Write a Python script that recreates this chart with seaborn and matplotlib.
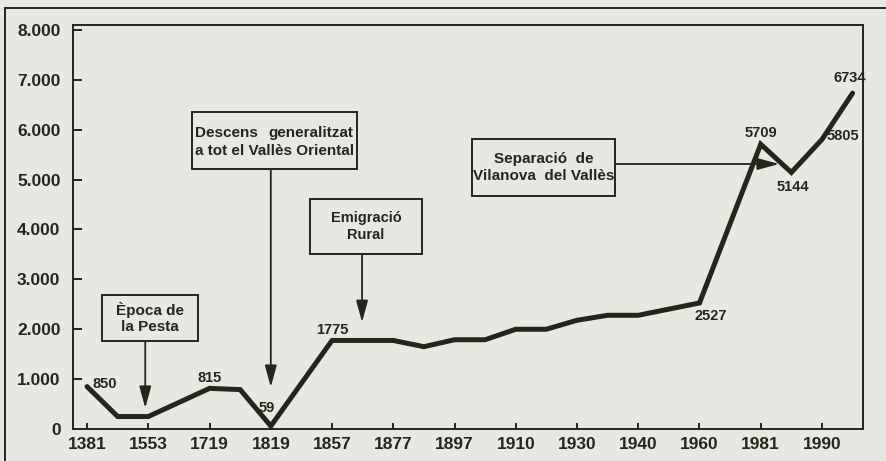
"""
Evolució de la població (1381-1996) amb els esdeveniments principals.
"""
import matplotlib
matplotlib.use('Agg')
import matplotlib.pyplot as plt
import matplotlib.patches as mpatches
from matplotlib.ticker import FuncFormatter
import seaborn as sns

# anys de l'eix horitzontal (espaiats de manera uniforme)
anys = ['1381', '1553', '1719', '1819', '1857', '1877', '1897',
        '1910', '1930', '1940', '1960', '1981', '1990']
# posició de cada vèrtex de la línia sobre l'eix (0 = 1381, 1 = 1553, ...)
posicio = [0, 0.5, 1, 2, 2.5, 3, 4, 5, 5.5, 6, 6.5, 7, 7.5,
           8, 8.5, 9, 10, 11, 11.5, 12, 12.5]
habitants = [850, 250, 250, 815, 790, 59, 1775, 1775, 1650, 1790, 1790, 2000, 2000,
             2180, 2280, 2280, 2527, 5709, 5144, 5805, 6734]
# valors que porten etiqueta
etiquetes = [850, 815, 59, 1775, 2527, 5709, 5144, 5805, 6734]
# esdeveniments
esdeveniments = ['Època de\nla Pesta',
                 'Descens generalitzat\na tot el Vallès Oriental',
                 'Emigració\nRural',
                 'Separació  de\nVilanova  del Vallès']

W, H = 886, 461
PAPER = '#e8e7e2'
INK = '#26251c'

sns.set_theme(style='ticks')
plt.rcParams['font.family'] = ['Liberation Sans', 'DejaVu Sans']
plt.rcParams['font.weight'] = 'bold'


def fxy(px, py):
    """coordenades de píxel de la imatge -> fracció de figura"""
    return px / W, 1 - py / H


fig = plt.figure(figsize=(W / 100, H / 100), dpi=100, facecolor=PAPER)
ax = fig.add_axes([73 / W, 1 - 429 / H, (863 - 73) / W, (429 - 25) / H])
ax.set_facecolor(PAPER)

sns.lineplot(x=posicio, y=habitants, ax=ax, color=INK, linewidth=3.6,
             solid_joinstyle='miter', sort=False)

ax.set_xlim(-0.23, 12.67)
ax.set_ylim(0, 8100)
ax.set_xticks(range(len(anys)))
ax.set_xticklabels(anys)
ax.set_yticks(range(0, 8001, 1000))
ax.yaxis.set_major_formatter(FuncFormatter(lambda v, _: f'{int(v):,}'.replace(',', '.')))
ax.set_xlabel('')
ax.set_ylabel('')

for s in ax.spines.values():
    s.set_visible(True)
    s.set_color(INK)
    s.set_linewidth(1.4)
ax.tick_params(axis='both', direction='in', colors=INK, width=1.4, labelsize=12.5)
ax.tick_params(axis='x', length=4, pad=6)
ax.tick_params(axis='y', length=6.5, pad=9)

# etiquetes de valor (desplaçament en píxels, alineació)
desplac = {850: (5, 3, 'left'), 815: (0, 10, 'center'), 59: (-4, 18, 'center'),
           1775: (0, 10, 'center'), 2527: (11, -13, 'center'), 5709: (0, 11, 'center'),
           5144: (2, -15, 'center'), 5805: (5, 3, 'left'), 6734: (-3, 15, 'center')}
for v in etiquetes:
    x = posicio[habitants.index(v)]
    dx, dy, ha = desplac[v]
    ax.annotate(str(v), xy=(x, v), xytext=(dx, dy), textcoords='offset pixels',
                ha=ha, va='center', fontsize=10.5, fontweight='bold', color=INK)

# caixes dels esdeveniments: (x0, y0, x1, y1) en píxels, mida de lletra
caixes = [(102, 295, 198, 341, 11), (192, 112, 357, 169, 11),
          (310, 199, 422, 254, 10.5), (472, 139, 615, 196, 11)]
for text, (x0, y0, x1, y1, fs) in zip(esdeveniments, caixes):
    fig.add_artist(mpatches.Rectangle(fxy(x0, y1), (x1 - x0) / W, (y1 - y0) / H,
                                      transform=fig.transFigure, facecolor=PAPER,
                                      edgecolor=INK, linewidth=1.4, zorder=5))
    if text.startswith('Descens'):
        l1, l2 = text.split('\n')
        w1, w2 = l1.split(' ')
        fig.text(*fxy(x0 + 3, 133), w1, ha='left', va='center', fontsize=fs, color=INK, zorder=6)
        fig.text(*fxy(x1 - 4, 133), w2, ha='right', va='center', fontsize=fs, color=INK, zorder=6)
        fig.text(*fxy(x0 + 3, 151), l2, ha='left', va='center', fontsize=fs, color=INK, zorder=6)
    else:
        fig.text(*fxy((x0 + x1) / 2, (y0 + y1) / 2), text, ha='center', va='center',
                 fontsize=fs, color=INK, linespacing=1.2, zorder=6)

# fletxes: punta en dades, cua a la vora de la caixa
estil = dict(arrowstyle='-|>,head_length=1.1,head_width=0.3', color=INK, lw=1.3,
             shrinkA=0, shrinkB=0)
for xd, yd, yb in [(0.95, 420, 341), (3.0, 840, 169), (4.49, 2140, 254)]:
    ax.annotate('', xy=(xd, yd), xycoords='data', xytext=(xd, 1 - yb / H),
                textcoords=('data', 'figure fraction'), arrowprops=estil, zorder=6)
ax.annotate('', xy=(11.3, 1 - 164 / H), xycoords=('data', 'figure fraction'),
            xytext=fxy(615, 164), textcoords='figure fraction', arrowprops=estil, zorder=6)

# marc exterior de la pàgina
fig.add_artist(mpatches.Rectangle((5 / W, -0.1), 1.2, 1 - 8 / H + 0.1, fill=False,
                                  edgecolor=INK, linewidth=1.4, transform=fig.transFigure))

fig.savefig('out.png', dpi=100, facecolor=PAPER)
